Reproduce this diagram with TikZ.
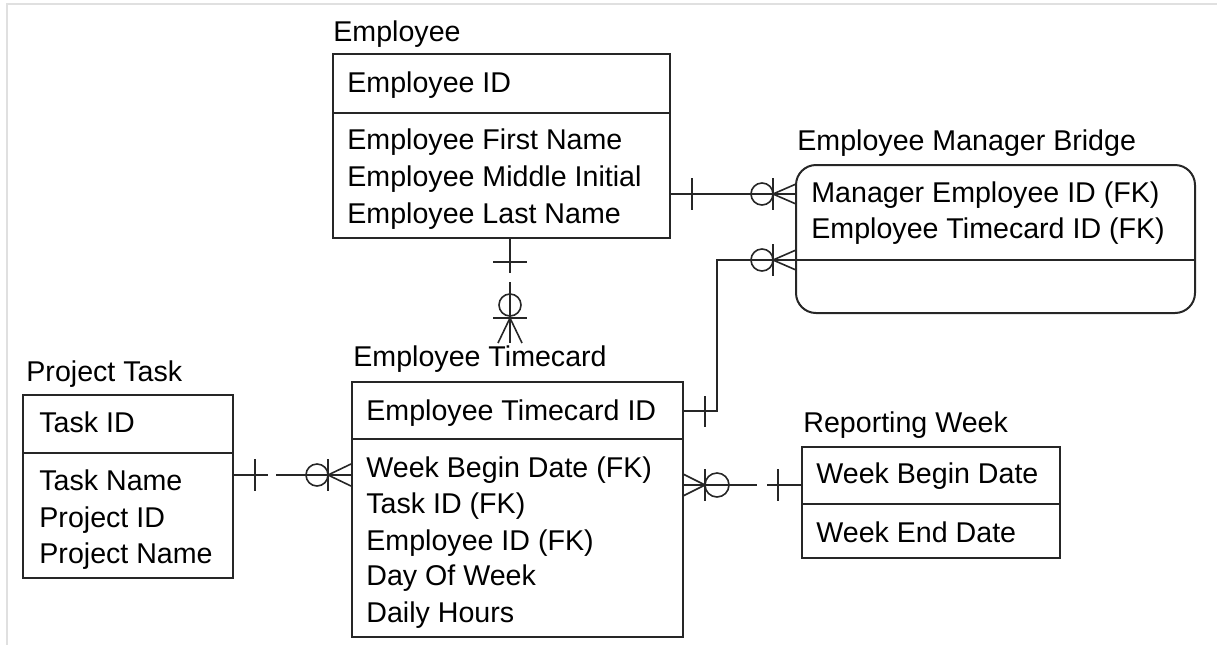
\documentclass[tikz,border=0pt]{standalone}
\usepackage{fontspec}
\setmainfont{Liberation Sans}

\begin{document}
\begin{tikzpicture}[x=0.5pt,y=-0.5pt,
        entity/.style={draw=black!85, line width=1pt, anchor=north west, inner sep=0pt, outer sep=0pt},
        attr/.style={anchor=base west, inner sep=0pt, font=\fontsize{14.3}{17}\selectfont},
        rel/.style={draw=black!85, line width=0.8pt}]
    \useasboundingbox (0,0) rectangle (1217,645);
    \draw[black!12, line width=1pt] (7,645) -- (7,4) -- (1217,4);

    % entities
    \node[entity, minimum width=168.5pt, minimum height=92pt] (emp) at (333,54) {};
    \draw[entity] (emp.west |- 0,113) -- (emp.east |- 0,113);
    \node[entity, rounded corners=10pt, minimum width=199.5pt, minimum height=74pt] (bridge) at (796,165) {};
    \draw[entity] (bridge.west |- 0,260) -- (bridge.east |- 0,260);
    \node[entity, minimum width=165.5pt, minimum height=127.5pt] (card) at (352,382) {};
    \draw[entity] (card.west |- 0,439) -- (card.east |- 0,439);
    \node[entity, minimum width=105pt, minimum height=91.5pt] (task) at (23,395) {};
    \draw[entity] (task.west |- 0,453) -- (task.east |- 0,453);
    \node[entity, minimum width=129pt, minimum height=55.5pt] (week) at (802,447) {};
    \draw[entity] (week.west |- 0,504) -- (week.east |- 0,504);

    \node[attr] (emp-title) at (333,41) {Employee};
    \node[attr] (emp-id) at (347,92) {Employee ID};
    \node[attr] (emp-first) at (347,149) {Employee First Name};
    \node[attr] (emp-middle) at (347,186) {Employee Middle Initial};
    \node[attr] (emp-last) at (347,223) {Employee Last Name};

    \node[attr] (bridge-title) at (797,150) {Employee Manager Bridge};
    \node[attr] (bridge-mgr) at (811,202) {Manager Employee ID (FK)};
    \node[attr] (bridge-card) at (811,238) {Employee Timecard ID (FK)};

    \node[attr] (card-title) at (353,366) {Employee Timecard};
    \node[attr] (card-id) at (366,420) {Employee Timecard ID};
    \node[attr] (card-week) at (366,477) {Week Begin Date (FK)};
    \node[attr] (card-task) at (366,513) {Task ID (FK)};
    \node[attr] (card-emp) at (366,550) {Employee ID (FK)};
    \node[attr] (card-day) at (366,585) {Day Of Week};
    \node[attr] (card-hours) at (366,622) {Daily Hours};

    \node[attr] (task-title) at (26,381) {Project Task};
    \node[attr] (task-id) at (39,432) {Task ID};
    \node[attr] (task-name) at (39,490) {Task Name};
    \node[attr] (task-proj) at (39,527) {Project ID};
    \node[attr] (task-projname) at (39,563) {Project Name};

    \node[attr] (week-title) at (803,432) {Reporting Week};
    \node[attr] (week-begin) at (816,483) {Week Begin Date};
    \node[attr] (week-end) at (816,542) {Week End Date};

    % employee -- manager bridge
    \draw[rel] (emp.east |- 0,194) -- (bridge.west |- 0,194);
    \draw[rel] (692,178) -- (692,210);
    \draw[rel] (762,194) circle (5.5pt);
    \draw[rel] (773,178) -- (773,210);
    \draw[rel] (796,184) -- (773,194) -- (796,204);

    % timecard -- manager bridge
    \draw[rel] (card.east |- 0,411) -- (717,411) -- (717,260) -- (bridge.west |- 0,260);
    \draw[rel] (705,396) -- (705,427);
    \draw[rel] (762,260) circle (5.5pt);
    \draw[rel] (773,244) -- (773,276);
    \draw[rel] (796,250) -- (773,260) -- (796,270);

    % employee -- timecard
    \draw[rel] (emp.south -| 510,0) -- (510,273);
    \draw[rel] (510,282) -- (510,343);
    \draw[rel] (493,262) -- (527,262);
    \draw[rel] (510,305) circle (5.5pt);
    \draw[rel] (493,318) -- (527,318);
    \draw[rel] (498,343) -- (510,318) -- (522,343);

    % project task -- timecard
    \draw[rel] (task.east |- 0,475) -- (268,475);
    \draw[rel] (276,475) -- (card.west |- 0,475);
    \draw[rel] (255,459) -- (255,491);
    \draw[rel] (317,475) circle (5.5pt);
    \draw[rel] (328,459) -- (328,491);
    \draw[rel] (351,464) -- (328,475) -- (351,486);

    % timecard -- reporting week
    \draw[rel] (card.east |- 0,485) -- (757,485);
    \draw[rel] (767,485) -- (week.west |- 0,485);
    \draw[rel] (683,474) -- (705,485) -- (683,496);
    \draw[rel] (705,469) -- (705,501);
    \draw[rel] (717,485) circle (6pt);
    \draw[rel] (778,469) -- (778,501);
\end{tikzpicture}
\end{document}
